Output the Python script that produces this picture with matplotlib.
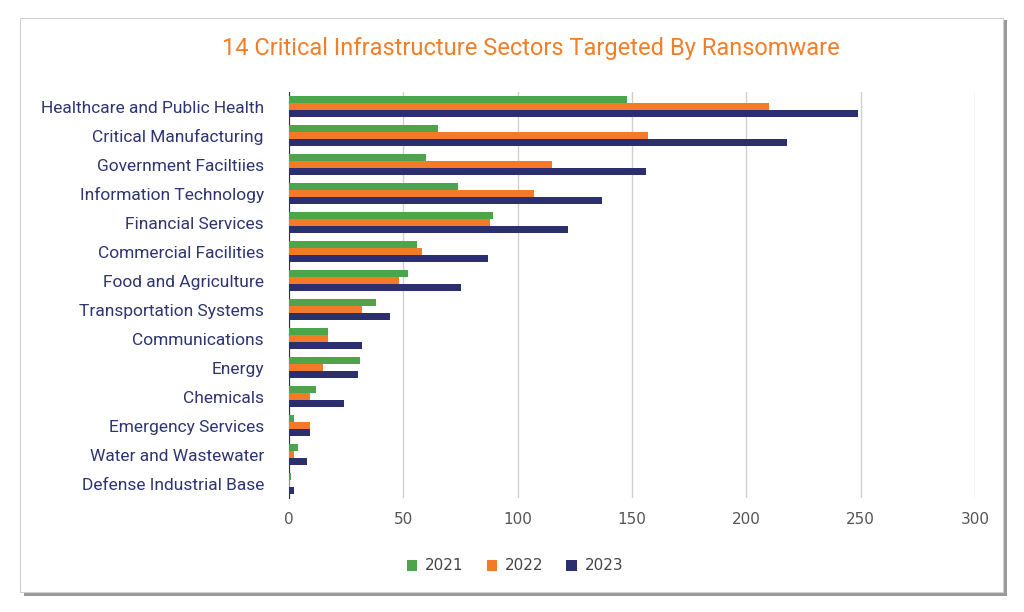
import matplotlib
matplotlib.use("Agg")
import matplotlib.pyplot as plt
import numpy as np
from matplotlib.patches import Rectangle

categories = ["Healthcare and Public Health", "Critical Manufacturing", "Government Faciltiies",
              "Information Technology", "Financial Services", "Commercial Facilities",
              "Food and Agriculture", "Transportation Systems", "Communications", "Energy",
              "Chemicals", "Emergency Services", "Water and Wastewater", "Defense Industrial Base"]
v2021 = [148, 65, 60, 74, 89, 56, 52, 38, 17, 31, 12, 2, 4, 1]
v2022 = [210, 157, 115, 107, 88, 58, 48, 32, 17, 15, 9, 9, 2, 0.5]
v2023 = [249, 218, 156, 137, 122, 87, 75, 44, 32, 30, 24, 9, 8, 2]
years = ["2021", "2022", "2023"]
colors = ["#4ea44a", "#f47a2a", "#2c2f6e"]
label_color = "#2e3570"

fig = plt.figure(figsize=(10.24, 6.12), dpi=100)
fig.patches.append(Rectangle((24/1024, 1-596/612), 983/1024, 576/612, transform=fig.transFigure,
                             facecolor="#9a9a9a", edgecolor="none", zorder=0))
fig.patches.append(Rectangle((20/1024, 1-592/612), 983/1024, 574/612, transform=fig.transFigure,
                             facecolor="white", edgecolor="#d0d0d0", lw=0.8, zorder=1))

ax = fig.add_axes([289/1024, 1-498/612, 686/1024, 406/612])
ax.set_zorder(2)
ax.patch.set_alpha(0)
y = np.arange(len(categories))
h = 0.24
for i, (vals, c, yr) in enumerate(zip([v2021, v2022, v2023], colors, years)):
    ax.barh(y + (i - 1) * h, vals, height=h, color=c, label=yr, zorder=3)
ax.set_ylim(len(categories) - 0.5, -0.5)
ax.set_xlim(0, 300)
ax.set_xticks(range(0, 301, 50))
ax.grid(axis="x", color="#d0d0d0", lw=1, zorder=0)
ax.set_yticks(y)
ax.set_yticklabels(categories, fontsize=12.5, color=label_color, fontfamily="Roboto")
ax.tick_params(axis="x", labelsize=11, colors="#555555", length=0, pad=10)
ax.tick_params(axis="y", length=0, pad=18)
for s in ["top", "right", "bottom"]:
    ax.spines[s].set_visible(False)
ax.spines["left"].set_color("#333333")
fig.text(531/1024, 1-48/612, "14 Critical Infrastructure Sectors Targeted By Ransomware",
         ha="center", va="center", fontsize=17, color="#f07f2a", fontfamily="Roboto")
fig.legend(loc="center", bbox_to_anchor=(515/1024, 1-566/612), ncol=3, frameon=False,
           fontsize=11, handlelength=0.7, handleheight=0.7, columnspacing=1.5,
           handletextpad=0.5, labelcolor="#444444")
fig.savefig("out.png", dpi=100)
